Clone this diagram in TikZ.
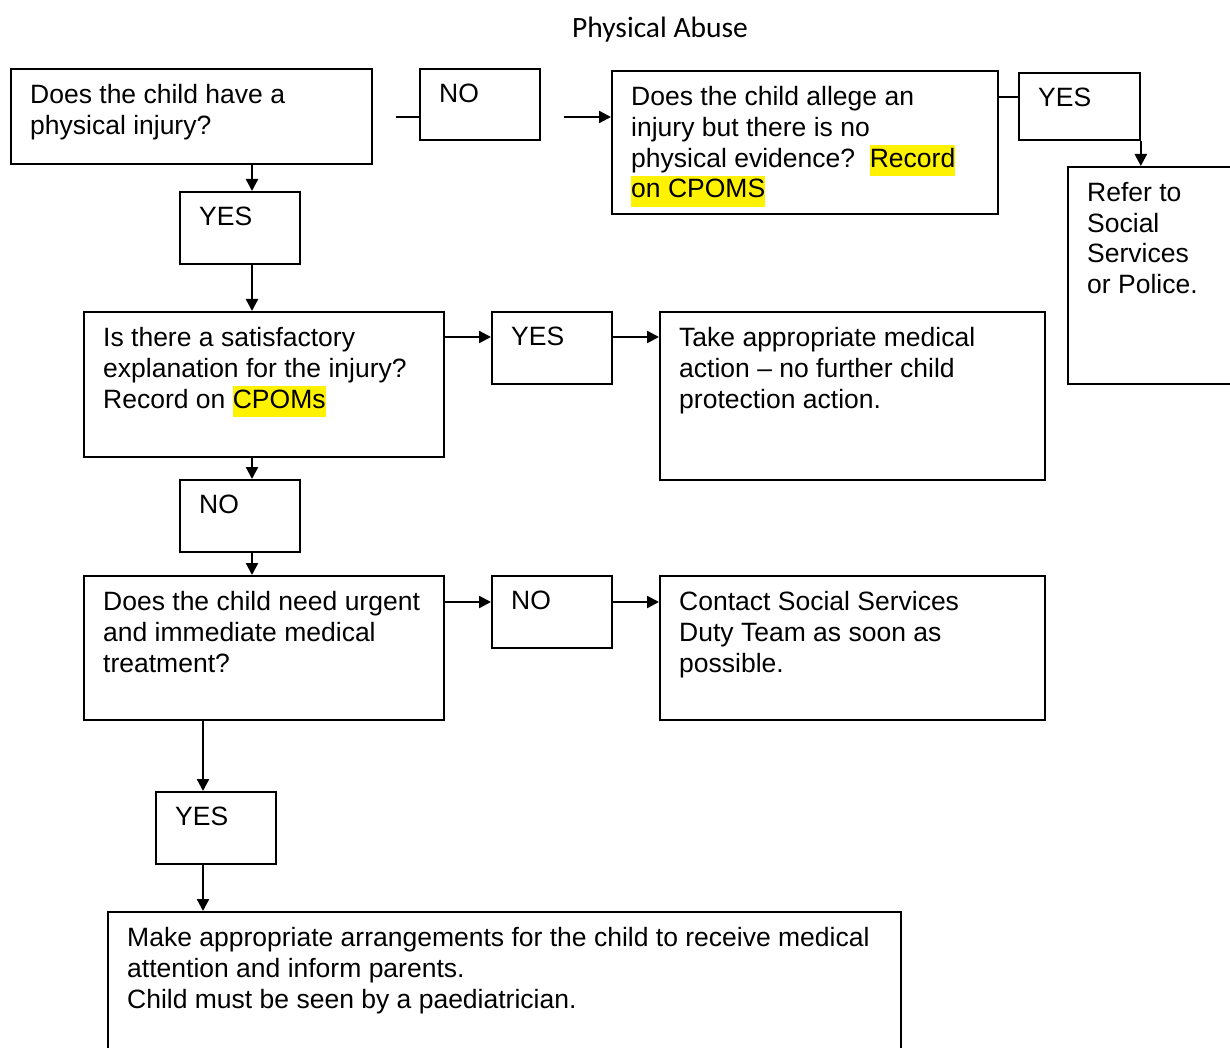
\documentclass[tikz,border=0pt]{standalone}
\usepackage{fontspec}
\setmainfont{Liberation Sans}
\newfontfamily\titlefont{Carlito}
\usetikzlibrary{arrows.meta}

% yellow text highlight
\newcommand{\hilite}[1]{{\fboxsep=0pt\colorbox{yellow}{\strut #1}}}

\begin{document}
\begin{tikzpicture}[
    x=1pt, y=-1pt,
    flowbox/.style 2 args={draw, line width=1.8pt, anchor=north west, inner sep=0pt, minimum width=#1pt, minimum height=#2pt},
    txt/.style={anchor=north west, xshift=20pt, yshift=-16pt, inner sep=0pt, align=left, font=\fontsize{26.5}{30.8}\selectfont},
    titletext/.style={font=\titlefont\fontsize{29.5}{34}\selectfont},
    link/.style={line width=2.4pt},
    arr/.style={-{Triangle[length=12pt,width=12pt]}, line width=2.4pt}
]
    \useasboundingbox (0,0) rectangle (1230,1048);

    % Title
    \node[titletext] (title) at (660,30) {Physical Abuse};

    % First question
    \node[flowbox={361}{95}, label={[txt]north west:{Does the child have a\\physical injury?}}] (q1) at (10,68) {};
    \node[flowbox={120}{71}, label={[txt]north west:{NO}}] (no1) at (419,68) {};
    \node[flowbox={386}{143}, label={[txt]north west:{Does the child allege an\\injury but there is no\\physical evidence?\ \ \hilite{Record}\\\hilite{on CPOMS}}}] (q2) at (611,70) {};
    \node[flowbox={121}{67}, label={[txt]north west:{YES}}] (yes2) at (1018,72) {};
    \node[flowbox={180}{217}, label={[txt]north west:{Refer to\\Social\\Services\\or Police.}}] (refer) at (1067,166) {};
    \node[flowbox={120}{72}, label={[txt]north west:{YES}}] (yes1) at (179,191) {};

    % Satisfactory explanation
    \node[flowbox={360}{145}, label={[txt]north west:{Is there a satisfactory\\explanation for the injury?\\Record on \hilite{CPOMs}}}] (q3) at (83,311) {};
    \node[flowbox={120}{72}, label={[txt]north west:{YES}}] (yes3) at (491,311) {};
    \node[flowbox={385}{168}, label={[txt]north west:{Take appropriate medical\\action – no further child\\protection action.}}] (act1) at (659,311) {};
    \node[flowbox={120}{72}, label={[txt]north west:{NO}}] (no3) at (179,479) {};

    % Urgent treatment
    \node[flowbox={360}{144}, label={[txt]north west:{Does the child need urgent\\and immediate medical\\treatment?}}] (q4) at (83,575) {};
    \node[flowbox={120}{72}, label={[txt]north west:{NO}}] (no4) at (491,575) {};
    \node[flowbox={385}{144}, label={[txt]north west:{Contact Social Services\\Duty Team as soon as\\possible.}}] (act2) at (659,575) {};
    \node[flowbox={120}{72}, label={[txt]north west:{YES}}] (yes4) at (155,791) {};
    \node[flowbox={793}{160}, label={[txt]north west:{Make appropriate arrangements for the child to receive medical\\attention and inform parents.\\Child must be seen by a paediatrician.}}] (act3) at (107,911) {};

    % Connectors
    \coordinate (spine) at (252,0);
    \coordinate (spine2) at (203,0);
    \coordinate (stub) at (396,117);
    \coordinate (gap) at (564,117);

    \draw[link] (stub) -- (no1.west |- stub);
    \draw[arr] (gap) -- (q2.west |- gap);
    \draw[link] ([yshift=-27pt]q2.north east) -- ([yshift=-25pt]yes2.north west);
    \draw[arr] (yes2.south east) -- (yes2.south east |- refer.north);

    \draw[arr] (q1.south -| spine) -- (yes1.north -| spine);
    \draw[arr] (yes1.south -| spine) -- (q3.north -| spine);
    \draw[arr] ([yshift=-26pt]q3.north east) -- ([yshift=-26pt]yes3.north west);
    \draw[arr] ([yshift=-26pt]yes3.north east) -- ([yshift=-26pt]act1.north west);
    \draw[arr] (q3.south -| spine) -- (no3.north -| spine);
    \draw[arr] (no3.south -| spine) -- (q4.north -| spine);

    \draw[arr] ([yshift=-27pt]q4.north east) -- ([yshift=-27pt]no4.north west);
    \draw[arr] ([yshift=-27pt]no4.north east) -- ([yshift=-27pt]act2.north west);
    \draw[arr] (q4.south -| spine2) -- (yes4.north -| spine2);
    \draw[arr] (yes4.south -| spine2) -- (act3.north -| spine2);

\end{tikzpicture}
\end{document}
